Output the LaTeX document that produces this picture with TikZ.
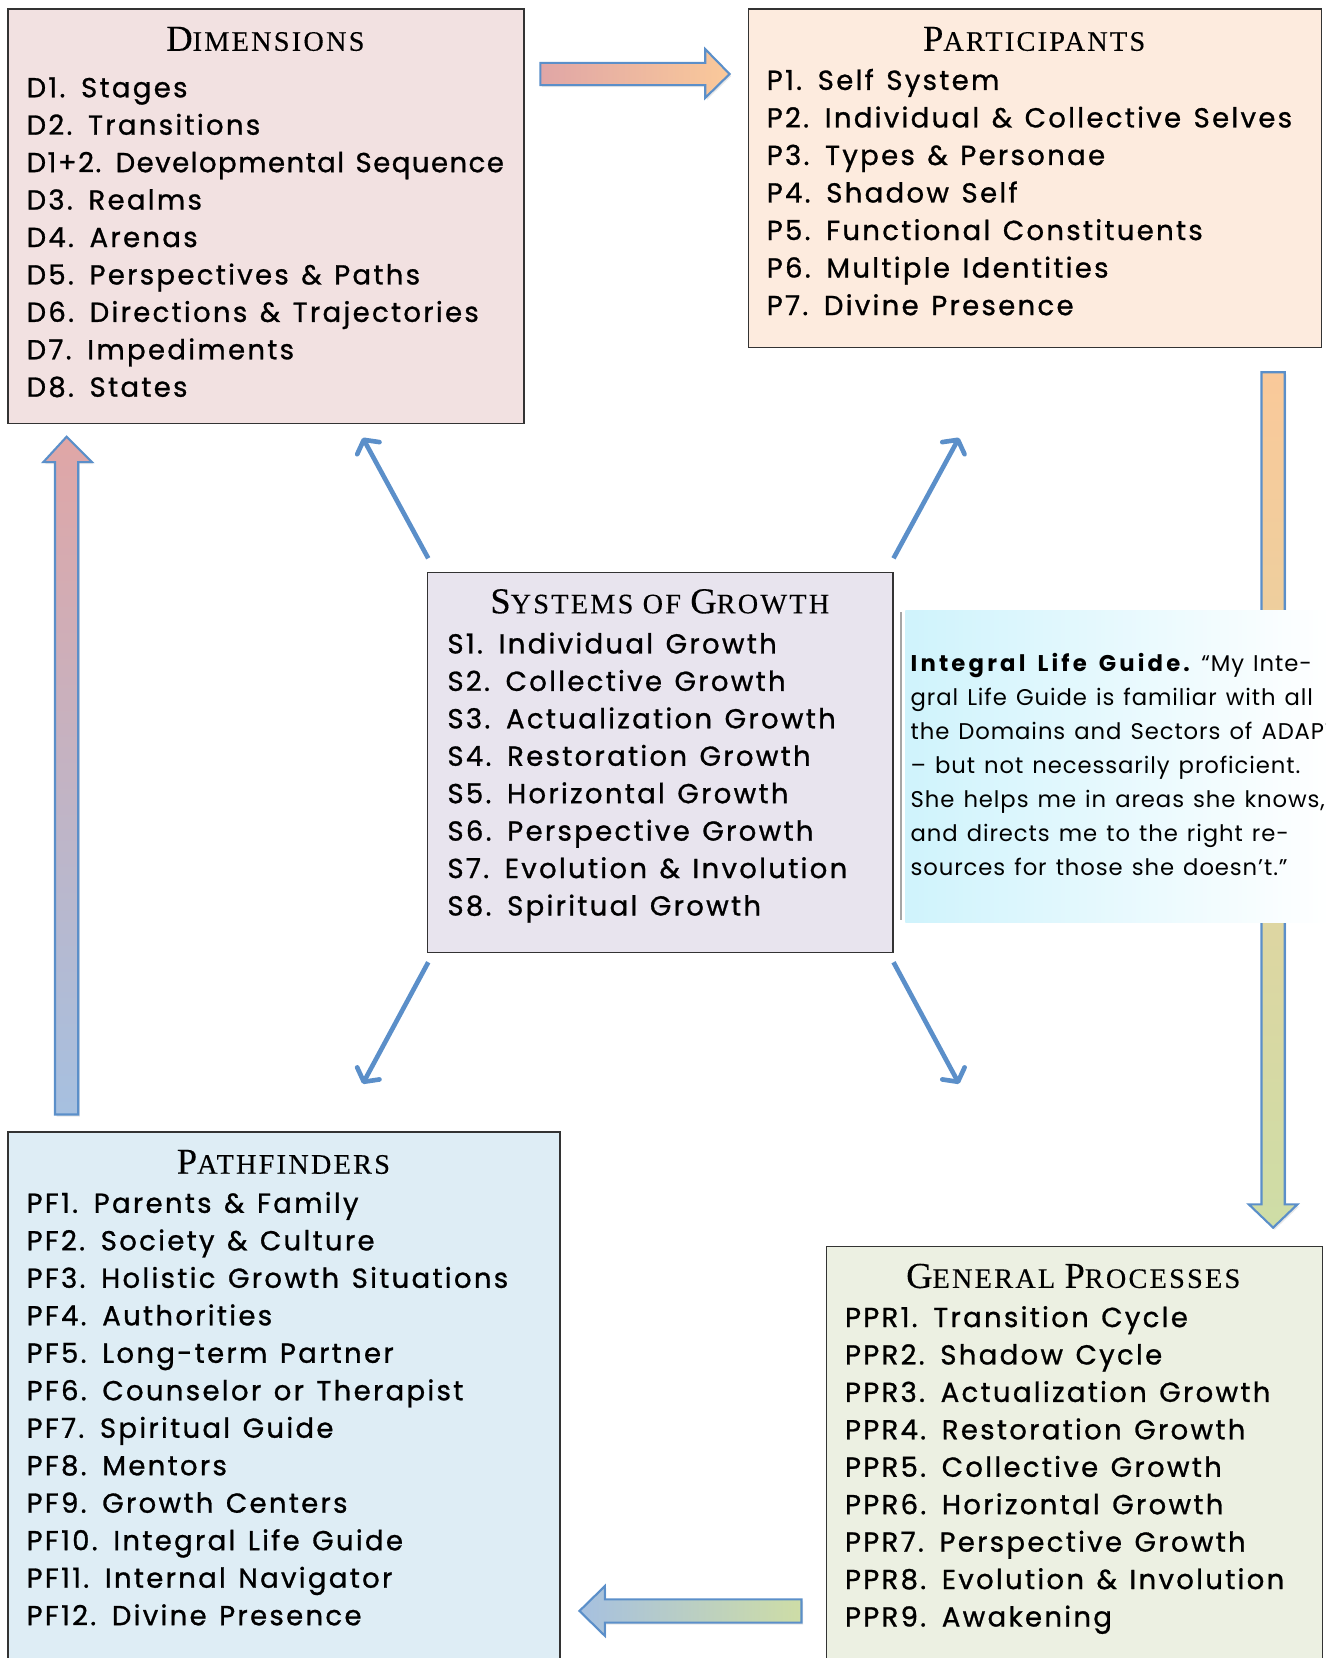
\documentclass[tikz,border=0pt]{standalone}
\usepackage{fontspec}
\usetikzlibrary{arrows.meta,shadows,calc}
\newfontfamily\listfont[LetterSpace=8.5, WordSpace=1.3, FakeBold=1.0]{Poppins}
\newfontfamily\notefont[LetterSpace=4, WordSpace=1.3]{Poppins}
\newfontfamily\noteboldfont[LetterSpace=14, WordSpace=1.5]{Poppins}
\newfontfamily\ttlfont[LetterSpace=8, FakeBold=0.3]{Liberation Serif}
\definecolor{dimfill}{HTML}{F2E1E1}
\definecolor{partfill}{HTML}{FDEBDE}
\definecolor{sysfill}{HTML}{E8E4EE}
\definecolor{pathfill}{HTML}{DEEDF5}
\definecolor{genfill}{HTML}{ECF0E2}
\definecolor{arrowblue}{HTML}{5B8FC9}
\definecolor{pinkA}{HTML}{E0A6A6}
\definecolor{peachA}{HTML}{FAC99A}
\definecolor{greenA}{HTML}{CEDDA6}
\definecolor{blueA}{HTML}{A6C0E0}
\definecolor{notecyan}{HTML}{CFF3FC}
\newcommand\Bg[1]{{\fontsize{34.5}{36}\selectfont #1}}
\newcommand\Sm[1]{{\fontsize{26.7}{28}\selectfont #1}}
\begin{document}
\begin{tikzpicture}[x=1pt,y=-1pt,
  box/.style={draw=black!80, line width=1.2pt, rectangle, inner sep=0pt, anchor=north west},
  ttl/.style={font=\ttlfont, anchor=base, inner sep=0pt},
  item/.style={font=\listfont\fontsize{26}{30}\selectfont, anchor=base west, inner sep=0pt},
  notetxt/.style={font=\notefont\fontsize{21.5}{26}\selectfont, anchor=base west, inner sep=0pt},
  blockarrow/.style={draw=arrowblue, line width=2pt, line join=miter,
     drop shadow={shadow xshift=1.5pt, shadow yshift=-2pt, opacity=0.18}},
  thinarrow/.style={draw=arrowblue, line width=4.4pt,
     -{Straight Barb[length=9pt, width=24pt, round]}}
]
\useasboundingbox (0,0) rectangle (1254,1568);
\begin{scope}
\clip (0,0) rectangle (1254,1568);

% ---------- boxes ----------
\node[box, fill=dimfill, minimum width=488pt, minimum height=392pt] (dim) at (7,8) {};
\node[box, fill=partfill, minimum width=542pt, minimum height=320pt] (part) at (707,8) {};
\node[box, fill=sysfill, minimum width=440pt, minimum height=359pt] (sys) at (404,541) {};
\node[box, fill=pathfill, minimum width=522pt, minimum height=510pt] (path) at (7,1070) {};
\node[box, fill=genfill, minimum width=469pt, minimum height=400pt] (gen) at (781,1178) {};

% ---------- titles ----------
\node[ttl] (dimT) at (251,48) {\Bg{D}\Sm{IMENSIONS}};
\node[ttl] (partT) at (978,48) {\Bg{P}\Sm{ARTICIPANTS}};
\node[ttl] (sysT) at (624,580) {\Bg{S}\Sm{YSTEMS OF }\Bg{G}\Sm{ROWTH}};
\node[ttl] (pathT) at (268,1110) {\Bg{P}\Sm{ATHFINDERS}};
\node[ttl] (genT) at (1015,1218) {\Bg{G}\Sm{ENERAL }\Bg{P}\Sm{ROCESSES}};

% ---------- lists ----------
\foreach \t [count=\i from 0] in {D1. Stages, D2. Transitions,
  {\addfontfeature{LetterSpace=5.5}D1+2. Developmental Sequence},
  D3. Realms, D4. Arenas, D5. Perspectives \& Paths, D6. Directions \& Trajectories,
  D7. Impediments, D8. States}
  \node[item] (dim-\i) at (25,{92+35.4*\i}) {\t};

\foreach \t [count=\i from 0] in {P1. Self System, P2. Individual \& Collective Selves,
  P3. Types \& Personae, P4. Shadow Self, P5. Functional Constituents,
  P6. Multiple Identities, P7. Divine Presence}
  \node[item] (part-\i) at (725,{85+35.5*\i}) {\t};

\foreach \t [count=\i from 0] in {S1. Individual Growth, S2. Collective Growth,
  S3. Actualization Growth, S4. Restoration Growth, S5. Horizontal Growth,
  S6. Perspective Growth, S7. Evolution \& Involution, S8. Spiritual Growth}
  \node[item] (sys-\i) at (423,{618+35.4*\i}) {\t};

\foreach \t [count=\i from 0] in {PF1. Parents \& Family, PF2. Society \& Culture,
  PF3. Holistic Growth Situations, PF4. Authorities, PF5. Long-term Partner,
  PF6. Counselor or Therapist, PF7. Spiritual Guide, PF8. Mentors,
  PF9. Growth Centers, PF10. Integral Life Guide, PF11. Internal Navigator,
  PF12. Divine Presence}
  \node[item] (path-\i) at (25,{1147+35.45*\i}) {\t};

\foreach \t [count=\i from 0] in {PPR1. Transition Cycle, PPR2. Shadow Cycle,
  PPR3. Actualization Growth, PPR4. Restoration Growth, PPR5. Collective Growth,
  PPR6. Horizontal Growth, PPR7. Perspective Growth, PPR8. Evolution \& Involution,
  PPR9. Awakening}
  \node[item] (gen-\i) at (799,{1255+35.4*\i}) {\t};

% ---------- block arrows ----------
% top: Dimensions -> Participants
\path[blockarrow, left color=pinkA, right color=peachA]
  (511,59.5) -- (667,59.5) -- (667,46.5) -- (690,70) -- (667,92.5) -- (667,80.5) -- (511,80.5) -- cycle;
% right: Participants -> General Processes
\path[blockarrow, top color=peachA, bottom color=greenA]
  (1193,352) -- (1215,352) -- (1215,1139) -- (1227,1139) -- (1204,1161) -- (1181,1139) -- (1193,1139) -- cycle;
% bottom: General Processes -> Pathfinders
\path[blockarrow, left color=blueA, right color=greenA]
  (758,1512.5) -- (572,1512.5) -- (572,1500) -- (548,1523.5) -- (572,1547) -- (572,1534.5) -- (758,1534.5) -- cycle;
% left: Pathfinders -> Dimensions
\path[blockarrow, top color=pinkA, bottom color=blueA]
  (52,1054) -- (52,437) -- (41,437) -- (63,413) -- (87,437) -- (74,437) -- (74,1054) -- cycle;

% ---------- note ----------
\draw[gray!70, line width=1.4pt] (852,579) -- (852,870);
\node[rectangle, inner sep=0pt, anchor=north west, minimum width=402pt, minimum height=295pt,
  left color=notecyan, right color=white] (note) at (856,577) {};
\node[notetxt] (n1) at (861,635) {{\noteboldfont\bfseries Integral Life Guide.} “My Inte-};
\node[notetxt] (n2) at (861,667.2) {gral Life Guide is familiar with all};
\node[notetxt] (n3) at (861,699.4) {the Domains and Sectors of ADAPT};
\node[notetxt] (n4) at (861,731.6) {– but not necessarily proficient.};
\node[notetxt] (n5) at (861,763.8) {She helps me in areas she knows,};
\node[notetxt] (n6) at (861,796) {and directs me to the right re-};
\node[notetxt] (n7) at (861,828.2) {sources for those she doesn’t.”};

% ---------- thin arrows from the centre ----------
\coordinate (nwS) at (405,528);  \coordinate (nwE) at (343,414);
\coordinate (neS) at (845,528);  \coordinate (neE) at (907,414);
\coordinate (swS) at (405,910);  \coordinate (swE) at (343,1025);
\coordinate (seS) at (845,910);  \coordinate (seE) at (907,1025);
\draw[thinarrow] (nwS) -- (nwE);
\draw[thinarrow] (neS) -- (neE);
\draw[thinarrow] (swS) -- (swE);
\draw[thinarrow] (seS) -- (seE);
\end{scope}
\end{tikzpicture}
\end{document}
